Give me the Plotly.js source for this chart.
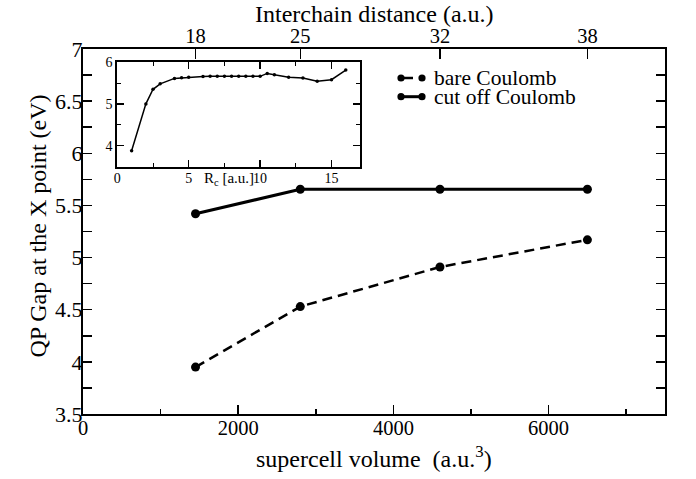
<!DOCTYPE html>
<html>
<head>
<meta charset="utf-8">
<script src="https://cdn.plot.ly/plotly-3.0.1.min.js"></script>
<style>html,body{margin:0;padding:0;background:#fff;}#chart{width:696px;height:479px;}</style>
</head>
<body>
<div id="chart"></div>
<script>
// ---- data ----
var volume = [1450, 2800, 4600, 6500];
var bareCoulomb = [3.95, 4.53, 4.91, 5.17];
var cutoffCoulomb = [5.42, 5.655, 5.655, 5.655];
var interchainLabels = ['18', '25', '32', '38'];
var rc = [1, 2, 2.5, 3, 4, 4.5, 5, 6, 6.5, 7, 7.5, 8, 8.5, 9, 9.5, 10, 10.5, 11, 12, 13, 14, 15, 16];
var insetGap = [3.88, 5.0, 5.35, 5.48, 5.61, 5.625, 5.64, 5.655, 5.66, 5.66, 5.66, 5.66, 5.66, 5.66, 5.66, 5.66, 5.73, 5.70, 5.64, 5.62, 5.54, 5.58, 5.81];
var legendNames = ['bare Coulomb', 'cut off Coulomb'];
var titles = {
  x: 'supercell volume  (a.u.<sup>3</sup>)',
  xTop: 'Interchain distance (a.u.)',
  y: 'QP Gap at the X point (eV)',
  inset: 'R<sub>c</sub> [a.u.]'
};

var FONT = 'Liberation Serif';

var traces = [
  {x: volume, y: bareCoulomb, xaxis: 'x', yaxis: 'y', mode: 'lines+markers', name: legendNames[0],
   line: {color: '#000', width: 2.5, dash: '10px,6px'}, marker: {color: '#000', size: 9}, showlegend: false},
  {x: volume, y: cutoffCoulomb, xaxis: 'x', yaxis: 'y', mode: 'lines+markers', name: legendNames[1],
   line: {color: '#000', width: 3}, marker: {color: '#000', size: 9}, showlegend: false},
  {x: volume, y: cutoffCoulomb, xaxis: 'x2', yaxis: 'y', mode: 'markers', marker: {opacity: 0}, hoverinfo: 'skip', showlegend: false},
  {x: rc, y: insetGap, xaxis: 'x3', yaxis: 'y3', mode: 'lines+markers',
   line: {color: '#000', width: 1.5}, marker: {color: '#000', size: 3.5}, showlegend: false}
];

// legend and titles drawn as layout decorations (paper coordinates)
var W = 582, H = 365;
function px(v){ return (v - 83) / W; }
function py(v){ return (414 - v) / H; }
var legY = [78, 96.7];
var shapes = [
  {type: 'line', xref: 'paper', yref: 'paper', x0: px(401), x1: px(413), y0: py(legY[0]), y1: py(legY[0]), line: {color: '#000', width: 2.5}},
  {type: 'line', xref: 'paper', yref: 'paper', x0: px(401), x1: px(422), y0: py(legY[1]), y1: py(legY[1]), line: {color: '#000', width: 3}}
];
[[401, legY[0]], [422, legY[0]], [401, legY[1]], [422, legY[1]]].forEach(function(p){
  shapes.push({type: 'circle', xref: 'paper', yref: 'paper', xsizemode: 'pixel', ysizemode: 'pixel',
    xanchor: px(p[0]), yanchor: py(p[1]), x0: -3.6, x1: 3.6, y0: -3.6, y1: 3.6,
    fillcolor: '#000', line: {color: '#000', width: 0}});
});

var annotations = [
  {xref: 'paper', yref: 'paper', x: px(432), y: py(legY[0]), xanchor: 'left', yanchor: 'middle', showarrow: false,
   text: legendNames[0], font: {family: FONT, size: 21.5, color: '#000'}},
  {xref: 'paper', yref: 'paper', x: px(432), y: py(legY[1]), xanchor: 'left', yanchor: 'middle', showarrow: false,
   text: legendNames[1], font: {family: FONT, size: 21.5, color: '#000'}},
  {xref: 'x3', yref: 'paper', x: 9.7, y: py(179), xanchor: 'right', yanchor: 'middle', showarrow: false,
   text: titles.inset, font: {family: FONT, size: 15, color: '#000'}},
  {xref: 'paper', yref: 'paper', x: px(374), y: py(457), xanchor: 'center', yanchor: 'middle', showarrow: false,
   text: titles.x, font: {family: FONT, size: 24, color: '#000'}},
  {xref: 'paper', yref: 'paper', x: px(374), y: py(14), xanchor: 'center', yanchor: 'middle', showarrow: false,
   text: titles.xTop, font: {family: FONT, size: 24, color: '#000'}},
  {xref: 'paper', yref: 'paper', x: px(38), y: py(226.5), xanchor: 'center', yanchor: 'middle', showarrow: false,
   textangle: -90, text: titles.y, font: {family: FONT, size: 24, color: '#000'}}
];

var axisCommon = {
  showline: true, linecolor: '#000', linewidth: 2, ticks: 'inside', tickcolor: '#000', tickwidth: 1.5,
  showgrid: false, zeroline: false, tickfont: {family: FONT, size: 20.5, color: '#000'}
};

var layout = {
  width: 696, height: 479,
  margin: {l: 83, r: 31, t: 49, b: 65},
  paper_bgcolor: '#fff', plot_bgcolor: '#fff',
  font: {family: FONT, color: '#000'},
  showlegend: false,
  xaxis: Object.assign({}, axisCommon, {
    range: [0, 7500], dtick: 2000, tick0: 0, ticklen: 9, mirror: true, ticklabelstandoff: -6,
    minor: {dtick: 1000, ticklen: 5, ticks: 'inside', tickcolor: '#000', tickwidth: 1.5}
  }),
  xaxis2: Object.assign({}, axisCommon, {
    overlaying: 'x', side: 'top', anchor: 'y', range: [0, 7500], ticklabelstandoff: -4,
    tickmode: 'array', tickvals: volume, ticktext: interchainLabels, ticklen: 10
  }),
  yaxis: Object.assign({}, axisCommon, {
    range: [3.5, 7], dtick: 0.5, tick0: 3.5, ticklen: 9, mirror: 'allticks', ticklabelstandoff: -6,
    tickfont: {family: FONT, size: 22, color: '#000'},
    minor: {dtick: 0.25, ticklen: 5, ticks: 'inside', tickcolor: '#000', tickwidth: 1.5}
  }),
  xaxis3: Object.assign({}, axisCommon, {
    domain: [0.059, 0.476], anchor: 'y3', range: [0, 17], dtick: 5, tick0: 0, ticklen: 7, mirror: 'allticks',
    tickfont: {family: FONT, size: 14, color: '#000'}, linewidth: 2, ticklabelstandoff: -2,
    minor: {dtick: 2.5, ticklen: 4, ticks: 'inside', tickcolor: '#000', tickwidth: 1}
  }),
  yaxis3: Object.assign({}, axisCommon, {
    domain: [0.678, 0.964], anchor: 'x3', range: [3.5, 6], dtick: 1, tick0: 4, ticklen: 7, mirror: 'allticks',
    tickfont: {family: FONT, size: 14, color: '#000'}, linewidth: 2,
    minor: {dtick: 0.5, ticklen: 4, ticks: 'inside', tickcolor: '#000', tickwidth: 1}
  }),
  shapes: shapes,
  annotations: annotations
};

Plotly.newPlot('chart', traces, layout, {displayModeBar: false, staticPlot: true});
</script>
</body>
</html>
